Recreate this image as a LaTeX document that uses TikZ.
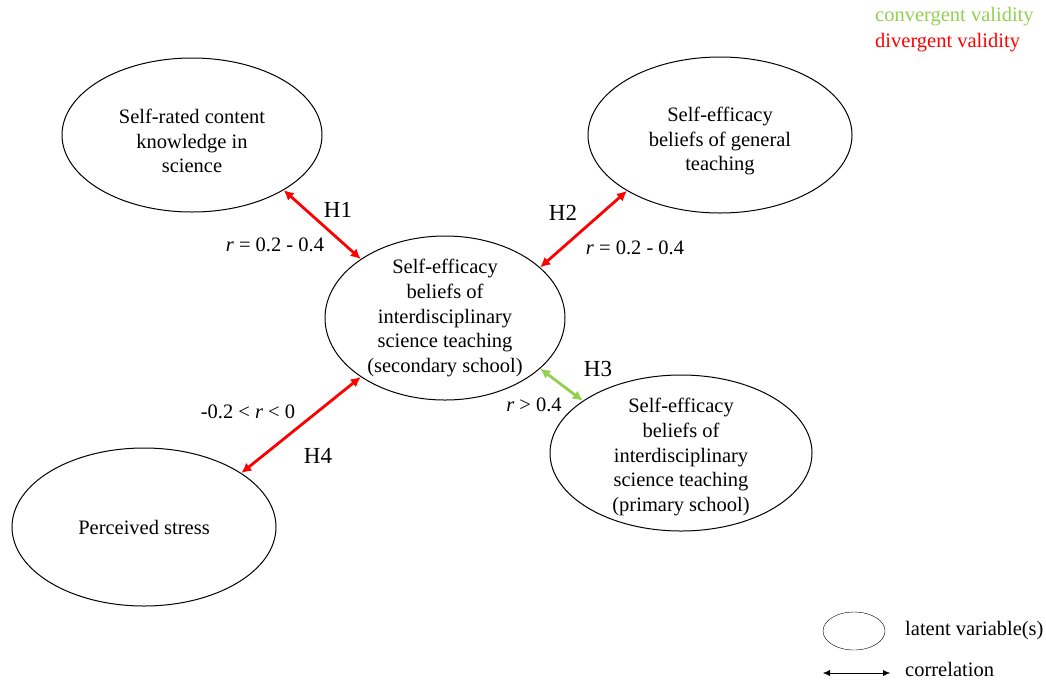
\documentclass[tikz,border=0pt]{standalone}
\usepackage{fontspec}
\setmainfont{Liberation Serif}
\usetikzlibrary{arrows.meta,shapes.geometric}

\definecolor{convgreen}{RGB}{146,208,80}
\definecolor{divred}{RGB}{255,0,0}

\tikzset{
  latent/.style={draw,line width=1pt,ellipse,inner sep=0pt},
  txt/.style={align=center,font=\fontsize{20.5}{24.8}\selectfont,inner sep=0pt},
  hyp/.style={font=\fontsize{23}{26}\selectfont,inner sep=0pt},
  corr/.style={line width=2.8pt,{Latex[length=10pt,width=10pt]}-{Latex[length=10pt,width=10pt]}},
}

\begin{document}
\begin{tikzpicture}[x=1pt,y=-1pt]
\useasboundingbox (0,0) rectangle (1046,681);

% latent variables
\node[latent,minimum width=260pt,minimum height=154pt,
  label={[txt,yshift=-6pt]center:{Self-rated content\\knowledge in\\science}}] (know) at (192,135) {};
\node[latent,minimum width=264pt,minimum height=156pt,
  label={[txt,yshift=-6pt]center:{Self-efficacy\\beliefs of general\\teaching}}] (gen) at (720,135) {};
\node[latent,minimum width=240pt,minimum height=164pt,
  label={[txt]center:{Self-efficacy\\beliefs of\\interdisciplinary\\science teaching\\(secondary school)}}] (sec) at (445,318) {};
\node[latent,minimum width=262pt,minimum height=156pt,
  label={[txt,yshift=-4pt]center:{Self-efficacy\\beliefs of\\interdisciplinary\\science teaching\\(primary school)}}] (prim) at (681,453) {};
\node[latent,minimum width=264pt,minimum height=158pt,
  label={[txt]center:{Perceived stress}}] (stress) at (144,527) {};

% correlations
\draw[corr,divred] (know.-31) -- (sec.145);
\draw[corr,divred] (gen.-149) -- (sec.28);
\draw[corr,convgreen] (sec.-28) -- (prim.152);
\draw[corr,divred] (sec.-145) -- (stress.29);

% hypotheses
\node[hyp] (h1) at (338,210) {H1};
\node[txt] (r1) at (275,245) {\textit{r} = 0.2 - 0.4};
\node[hyp] (h2) at (563,213) {H2};
\node[txt] (r2) at (635,248) {\textit{r} = 0.2 - 0.4};
\node[hyp] (h3) at (598,369) {H3};
\node[txt] (r3) at (534,405) {\textit{r} > 0.4};
\node[hyp] (h4) at (318,456) {H4};
\node[txt] (r4) at (248,412) {-0.2 < \textit{r} < 0};

% legend
\node[txt,anchor=west,text=convgreen] (conv) at (875,17) {convergent validity};
\node[txt,anchor=west,text=divred] (div) at (875,43) {divergent validity};
\node[draw,ellipse,inner sep=0pt,minimum width=62pt,minimum height=38pt] (lat) at (854,631) {};
\node[txt,anchor=west] (latlab) at (905,631) {latent variable(s)};
\coordinate (la) at (823,673);
\coordinate (lb) at (890,673);
\draw[thin,{Latex[length=7pt,width=6pt]}-{Latex[length=7pt,width=6pt]}] (la) -- (lb);
\node[txt,anchor=base west] (corrlab) at (905,676) {correlation};

\end{tikzpicture}
\end{document}
